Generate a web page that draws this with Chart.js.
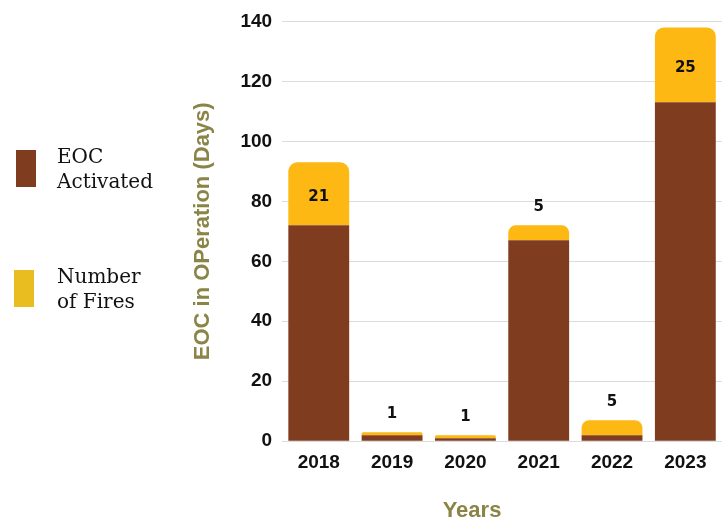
<!DOCTYPE html>
<html>
<head>
<meta charset="utf-8">
<script src="https://cdn.jsdelivr.net/npm/chart.js@4"></script>
<style>
  body { margin: 0; background: #fff; }
</style>
</head>
<body>
<canvas id="eocChart" width="722" height="523"></canvas>
<script>
// data
var years = ['2018', '2019', '2020', '2021', '2022', '2023'];
var eocActivated = [72, 2, 1, 67, 2, 113];
var numberOfFires = [21, 1, 1, 5, 5, 25];
var yTicks = [0, 20, 40, 60, 80, 100, 120, 140];

var brown = '#7f3c1f';
var yellow = '#fdb813';
var olive = '#8b8447';

// legend on the left + x title, drawn by hand
var sideLegend = {
    id: 'sideLegend',
    afterDraw: function (chart) {
        var ctx = chart.ctx;
        var items = [
            { lines: ['EOC', 'Activated'], color: brown, boxX: 16, baseline: 163 },
            { lines: ['Number', 'of Fires'], color: '#e9bd20', boxX: 14, baseline: 283 }
        ];
        ctx.save();
        items.forEach(function (it) {
            ctx.fillStyle = it.color;
            ctx.fillRect(it.boxX, it.baseline - 13, 20, 37);
            ctx.fillStyle = '#111';
            ctx.font = '20px "DejaVu Serif"';
            ctx.textAlign = 'left';
            ctx.textBaseline = 'alphabetic';
            it.lines.forEach(function (l, i) {
                ctx.fillText(l, 57, it.baseline + i * 25);
            });
        });
        ctx.fillStyle = olive;
        ctx.font = 'bold 22px "Liberation Sans", Arial, sans-serif';
        ctx.textAlign = 'center';
        ctx.textBaseline = 'middle';
        ctx.fillText('Years', 472, 511);
        ctx.restore();
    }
};

// value labels for the fires segment
var fireLabels = {
    id: 'fireLabels',
    afterDatasetsDraw: function (chart) {
        var ctx = chart.ctx;
        var meta = chart.getDatasetMeta(1);
        ctx.save();
        ctx.fillStyle = '#111';
        ctx.font = 'bold 15px "DejaVu Sans"';
        ctx.textAlign = 'center';
        ctx.textBaseline = 'middle';
        meta.data.forEach(function (bar, i) {
            var h = bar.base - bar.y;
            var y = h > 30 ? bar.y + h / 2 + 3 : bar.y - 18;
            ctx.fillText(String(numberOfFires[i]), bar.x, y);
        });
        ctx.restore();
    }
};

var tickFont = { family: '"Liberation Sans", Arial, sans-serif', weight: 'bold', size: 19 };

var ctx = document.getElementById('eocChart').getContext('2d');
var eocChart = new Chart(ctx, {
    type: 'bar',
    data: {
        labels: years,
        datasets: [{
            label: 'EOC Activated',
            data: eocActivated,
            backgroundColor: brown,
            barPercentage: 0.83,
            categoryPercentage: 1
        }, {
            label: 'Number of Fires',
            data: numberOfFires,
            backgroundColor: yellow,
            borderRadius: { topLeft: 9, topRight: 9, bottomLeft: 0, bottomRight: 0 },
            borderSkipped: false,
            barPercentage: 0.83,
            categoryPercentage: 1
        }]
    },
    options: {
        responsive: false,
        animation: false,
        layout: { padding: { left: 190, top: 17, right: 0, bottom: 47 } },
        plugins: {
            legend: { display: false },
            tooltip: { enabled: false }
        },
        scales: {
            x: {
                stacked: true,
                grid: { display: false },
                border: { display: false },
                ticks: {
                    color: '#111',
                    padding: 2,
                    font: tickFont
                }
            },
            y: {
                stacked: true,
                min: 0,
                max: 140,
                afterBuildTicks: function (scale) {
                    scale.ticks = yTicks.map(function (v) { return { value: v }; });
                },
                grid: { color: '#dcdcdc', drawTicks: false },
                border: { display: false },
                ticks: {
                    color: '#111',
                    padding: 10,
                    font: tickFont
                },
                title: {
                    display: true,
                    text: 'EOC in OPeration (Days)',
                    color: olive,
                    padding: { top: 0, bottom: 14 },
                    font: { family: '"Liberation Sans", Arial, sans-serif', weight: 'bold', size: 22 }
                }
            }
        }
    },
    plugins: [sideLegend, fireLabels]
});
</script>
</body>
</html>
